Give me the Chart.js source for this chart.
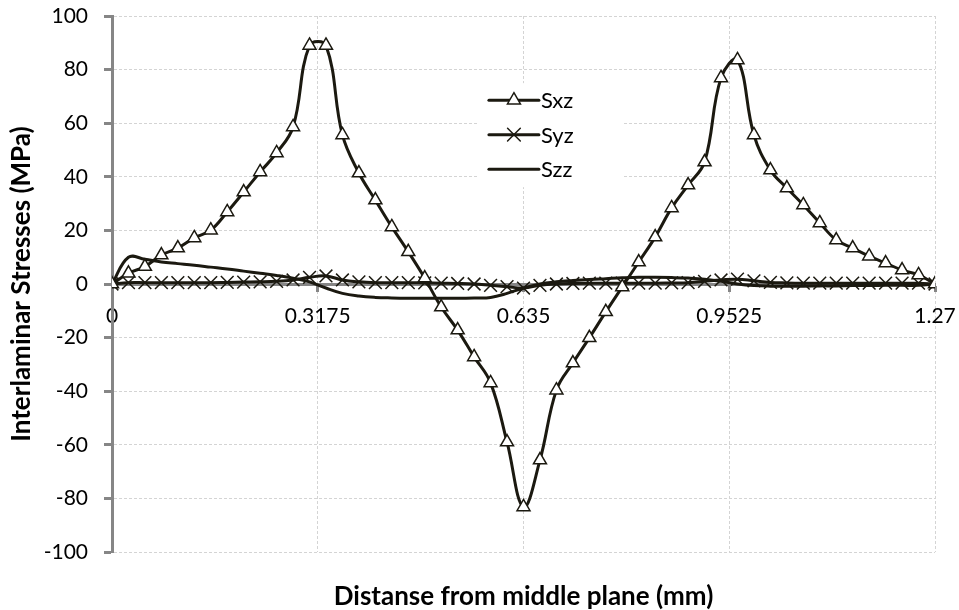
<!DOCTYPE html>
<html>
<head>
<meta charset="utf-8">
<script src="https://cdn.jsdelivr.net/npm/chart.js@4/dist/chart.umd.min.js"></script>
<style>
  html, body { margin: 0; padding: 0; background: #fff; }
  #wrap { width: 959px; height: 610px; }
</style>
</head>
<body>
<div id="wrap"><canvas id="stressChart" width="959" height="610"></canvas></div>
<script>
// distance from middle plane (mm)
const distances = [0, 0.0254, 0.0508, 0.0762, 0.1016, 0.127, 0.1524, 0.1778, 0.2032, 0.2286,
    0.254, 0.2794, 0.3048, 0.3302, 0.3556, 0.381, 0.4064, 0.4318, 0.4572, 0.4826,
    0.508, 0.5334, 0.5588, 0.5842, 0.6096, 0.635, 0.6604, 0.6858, 0.7112, 0.7366,
    0.762, 0.7874, 0.8128, 0.8382, 0.8636, 0.889, 0.9144, 0.9398, 0.9652, 0.9906,
    1.016, 1.0414, 1.0668, 1.0922, 1.1176, 1.143, 1.1684, 1.1938, 1.2192, 1.2446, 1.27];

// stresses (MPa)
const sxz = [0, 4, 6.5, 10.8, 13.4, 17.2, 20.1, 26.9, 34.3, 41.8,
    48.9, 58.6, 89, 89, 55.6, 41.4, 31.3, 21.3, 12, 2.2,
    -8.6, -17.2, -27.2, -36.9, -59, -83.2, -65.7, -39.6, -29.5, -20.1,
    -10.4, -1.1, 8.2, 17.5, 28.4, 36.9, 45.5, 76.9, 83.6, 55.6,
    42.5, 35.8, 29.5, 22.8, 16.4, 13.4, 10.4, 7.8, 5.2, 3.4, 0];

const syz = [0, 0.5, 0.5, 0.5, 0.5, 0.5, 0.5, 0.6, 0.7, 0.8,
    1, 1.5, 2.5, 3, 1.5, 0.8, 0.5, 0.5, 0.5, 0.4,
    0.3, 0.2, 0, -0.5, -1, -1.5, -0.5, 0, 0.2, 0.3,
    0.3, 0.3, 0.3, 0.3, 0.4, 0.5, 1, 1.5, 1.8, 1.2,
    0.6, 0.4, 0.3, 0.3, 0.3, 0.3, 0.3, 0.3, 0.3, 0.3, 0];

const szz = [0, 10, 9.2, 8.2, 7.6, 7, 6.3, 5.6, 4.8, 4,
    3.2, 2.2, 0.8, -1.5, -3.5, -4.5, -5, -5.2, -5.3, -5.3,
    -5.3, -5.3, -5.2, -5, -3.5, -1.5, 0, 0.8, 1.3, 1.7,
    2, 2.3, 2.5, 2.5, 2.4, 2.2, 1.8, 1, 0, -0.6,
    -0.8, -0.8, -0.8, -0.7, -0.7, -0.6, -0.6, -0.5, -0.5, -0.5, 0];

const xTickValues = [0, 0.3175, 0.635, 0.9525, 1.27];
const seriesNames = ['Sxz', 'Syz', 'Szz'];

const lineColor = '#1b1910';
const axisGray = '#868686';
const gridGray = '#d4d4d4';
const baseFont = 'Lato, "Open Sans", sans-serif';

function toPoints(values) {
    return values.map((v, i) => ({ x: distances[i], y: v }));
}

// keep the plot box where the layout padding puts it
function noScalePadding(scale) {
    scale.paddingLeft = 0;
    scale.paddingRight = 0;
    scale.paddingTop = 0;
    scale.paddingBottom = 0;
}

// legend drawn inside the plot, like the original
const insideLegend = {
    id: 'insideLegend',
    afterDraw(chart) {
        const ctx = chart.ctx;
        const area = chart.chartArea;
        const x0 = area.left + area.width * 0.458;
        const y0 = area.top + area.height * 0.157;
        const rowGap = 34.5;
        ctx.save();
        ctx.fillStyle = '#fff';
        ctx.fillRect(x0 - 11, y0 - 17, 145, 104);
        chart.data.datasets.forEach((ds, i) => {
            const y = y0 + i * rowGap;
            ctx.strokeStyle = ds.borderColor;
            ctx.lineWidth = 3;
            ctx.lineCap = 'round';
            ctx.beginPath();
            ctx.moveTo(x0, y);
            ctx.lineTo(x0 + 50, y);
            ctx.stroke();
            if (ds.pointStyle) {
                ctx.fillStyle = ds.pointBackgroundColor;
                ctx.strokeStyle = ds.pointBorderColor;
                ctx.lineWidth = ds.pointBorderWidth;
                Chart.helpers.drawPoint(ctx, {
                    pointStyle: ds.pointStyle,
                    radius: ds.pointRadius,
                    rotation: 0,
                    borderWidth: ds.pointBorderWidth
                }, x0 + 25, y);
            }
            ctx.fillStyle = '#000';
            ctx.font = '22px ' + baseFont;
            ctx.textBaseline = 'middle';
            ctx.textAlign = 'left';
            ctx.fillText(ds.label, x0 + 52, y + 1);
        });
        ctx.restore();
    }
};

const ctx = document.getElementById('stressChart').getContext('2d');
new Chart(ctx, {
    type: 'line',
    data: {
        datasets: [{
            label: seriesNames[0],
            data: toPoints(sxz),
            borderColor: lineColor,
            borderWidth: 3,
            tension: 0.4,
            pointStyle: 'triangle',
            pointRadius: 7.5,
            pointBackgroundColor: '#fff',
            pointBorderColor: lineColor,
            pointBorderWidth: 1.5
        }, {
            label: seriesNames[1],
            data: toPoints(syz),
            borderColor: lineColor,
            borderWidth: 3,
            tension: 0.4,
            pointStyle: 'crossRot',
            pointRadius: 9,
            pointBackgroundColor: '#fff',
            pointBorderColor: lineColor,
            pointBorderWidth: 1.5
        }, {
            label: seriesNames[2],
            data: toPoints(szz),
            borderColor: lineColor,
            borderWidth: 3,
            tension: 0.4,
            pointRadius: 0,
            pointStyle: false
        }]
    },
    options: {
        responsive: false,
        animation: false,
        layout: { padding: { left: 9, top: 16, right: 24, bottom: 0 } },
        plugins: {
            legend: { display: false },
            tooltip: { enabled: false },
            title: {
                display: true,
                position: 'bottom',
                fullSize: false,
                text: 'Distanse from middle plane (mm)',
                color: '#000',
                font: { family: baseFont, size: 26, weight: 'bold', lineHeight: 1 },
                padding: { top: 31.5, bottom: 0.5 }
            }
        },
        scales: {
            x: {
                type: 'linear',
                min: 0,
                max: 1.27,
                position: { y: 0 },
                afterBuildTicks: (scale) => {
                    scale.ticks = xTickValues.map(v => ({ value: v }));
                },
                afterFit: noScalePadding,
                ticks: {
                    color: '#000',
                    font: { family: baseFont, size: 21 },
                    padding: 14,
                    maxRotation: 0,
                    autoSkip: false,
                    callback: (v) => String(v)
                },
                grid: {
                    color: gridGray,
                    lineWidth: 1,
                    tickColor: axisGray,
                    tickWidth: 3,
                    tickLength: 6
                },
                border: { color: axisGray, width: 3, dash: [3, 2] }
            },
            y: {
                min: -100,
                max: 100,
                afterFit: (scale) => {
                    scale.width = 103;
                    noScalePadding(scale);
                },
                ticks: {
                    stepSize: 20,
                    color: '#000',
                    font: { family: baseFont, size: 21 },
                    padding: 16
                },
                grid: {
                    color: gridGray,
                    lineWidth: 1,
                    tickColor: axisGray,
                    tickWidth: 3,
                    tickLength: 8
                },
                border: { color: axisGray, width: 3, dash: [3, 2] },
                title: {
                    display: true,
                    text: 'Interlaminar Stresses (MPa)',
                    color: '#000',
                    font: { family: baseFont, size: 26, weight: 'bold', lineHeight: 1 },
                    padding: { top: 0, bottom: 0 }
                }
            }
        }
    },
    plugins: [insideLegend]
});
</script>
</body>
</html>
